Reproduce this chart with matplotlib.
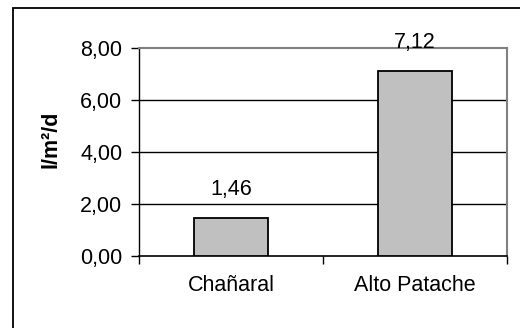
import matplotlib.pyplot as plt
from matplotlib.patches import Rectangle
from matplotlib.ticker import FixedLocator

plt.rcParams['font.family'] = ['Liberation Sans', 'DejaVu Sans']

# Datos
categorias = ['Chañaral', 'Alto Patache']
valores = [1.46, 7.12]
etiquetas = ['1,46', '7,12']
yticks = [0, 2, 4, 6, 8]
ytick_labels = ['0,00', '2,00', '4,00', '6,00', '8,00']

fs = 15.5

fig = plt.figure(figsize=(5.2, 3.28), dpi=100)
ax = fig.add_axes([0.2673, 0.2195, 0.7077, 0.6342])

# Marco exterior (solo se ve arriba e izquierda)
fig.patches.append(Rectangle((13 / 520, -0.1), 1.2, 1 - 8 / 328 + 0.1,
                             transform=fig.transFigure, fill=False,
                             edgecolor='black', lw=1.3))

x = list(range(len(categorias)))
ax.bar(x, valores, width=0.4, color='#C0C0C0', edgecolor='black', lw=1.3, zorder=3)
for xi, v, t in zip(x, valores, etiquetas):
    ax.annotate(t, (xi, v), xytext=(0, 13), textcoords='offset points',
                ha='center', va='bottom', fontsize=fs)

ax.set_xlim(-0.5, 1.5)
ax.set_ylim(0, 8)
ax.set_yticks(yticks)
ax.set_yticklabels(ytick_labels, fontsize=fs)
ax.set_xticks(x)
ax.set_xticklabels(categorias, fontsize=fs)
ax.xaxis.set_minor_locator(FixedLocator([-0.5, 0.5, 1.5]))
ax.tick_params(axis='x', which='major', length=0, pad=14)
ax.tick_params(axis='x', which='minor', length=6, width=1, direction='out')
ax.tick_params(axis='y', length=6, width=1, direction='out', pad=6)

for yv in yticks[1:-1]:
    ax.axhline(yv, color='black', lw=1, zorder=1)

ax.spines['top'].set_color('#808080')
ax.spines['right'].set_color('#808080')
ax.spines['top'].set_linewidth(1.5)
ax.spines['right'].set_linewidth(1.5)
ax.spines['left'].set_linewidth(1)
ax.spines['bottom'].set_linewidth(1.2)

ax.set_ylabel('l/m²/d', fontsize=fs, fontweight='bold')
ax.yaxis.set_label_coords(-0.21, 0.56)

fig.savefig('out.png', dpi=100)
